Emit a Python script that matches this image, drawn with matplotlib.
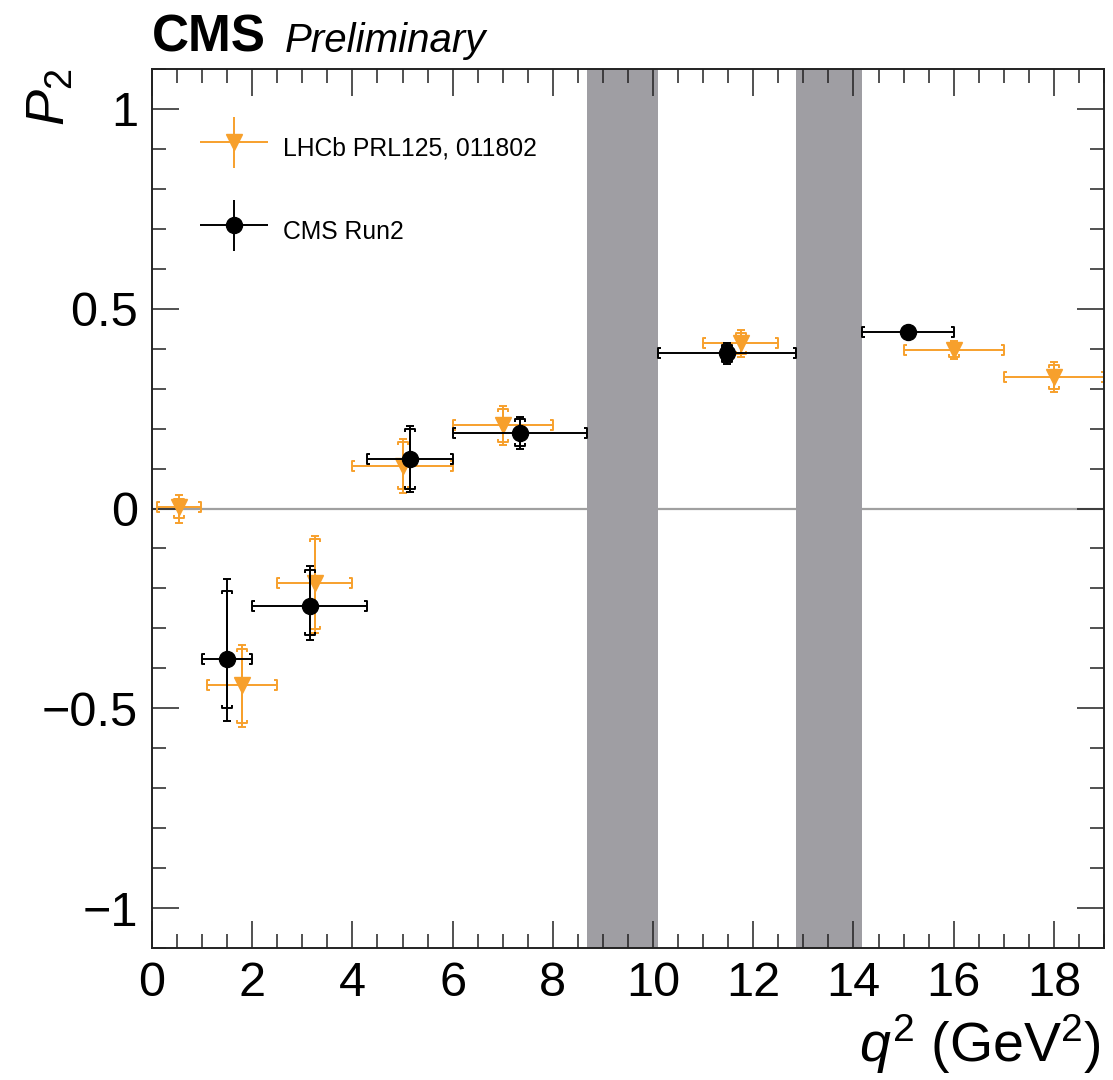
import numpy as np
import matplotlib
matplotlib.use("Agg")
import matplotlib.pyplot as plt
from matplotlib.path import Path
from matplotlib.lines import Line2D
from matplotlib.legend_handler import HandlerErrorbar
from matplotlib.container import ErrorbarContainer

plt.rcParams['font.family'] = ['Liberation Sans', 'DejaVu Sans']
plt.rcParams['mathtext.fontset'] = 'custom'
plt.rcParams['mathtext.rm'] = 'Liberation Sans'
plt.rcParams['mathtext.it'] = 'Liberation Sans:italic'
plt.rcParams['mathtext.bf'] = 'Liberation Sans:bold'

# ---------------- data ----------------
# LHCb PRL125, 011802
lhcb_lo = np.array([0.10, 1.1, 2.5, 4.0, 6.0, 11.0, 15.0, 17.0])
lhcb_hi = np.array([0.98, 2.5, 4.0, 6.0, 8.0, 12.5, 17.0, 19.0])
lhcb_y = np.array([0.003, -0.441, -0.186, 0.106, 0.210, 0.413, 0.397, 0.330])
lhcb_tot_up = np.array([0.031, 0.100, 0.118, 0.069, 0.046, 0.033, 0.022, 0.037])
lhcb_tot_dn = np.array([0.039, 0.105, 0.125, 0.066, 0.050, 0.033, 0.024, 0.038])
lhcb_stat_up = np.array([0.022, 0.090, 0.110, 0.060, 0.040, 0.026, 0.017, 0.030])
lhcb_stat_dn = np.array([0.026, 0.095, 0.115, 0.058, 0.043, 0.026, 0.018, 0.031])

# CMS Run2
cms_lo = np.array([1.0, 2.0, 4.3, 6.0, 10.09, 14.18])
cms_hi = np.array([2.0, 4.3, 6.0, 8.68, 12.86, 16.0])
cms_y = np.array([-0.376, -0.243, 0.123, 0.190, 0.388, 0.442])
cms_tot_up = np.array([0.200, 0.100, 0.083, 0.039, 0.027, 0.010])
cms_tot_dn = np.array([0.155, 0.085, 0.082, 0.040, 0.027, 0.010])
cms_stat_up = np.array([0.170, 0.090, 0.076, 0.033, 0.022, 0.008])
cms_stat_dn = np.array([0.123, 0.073, 0.075, 0.034, 0.022, 0.008])

# vetoed q2 regions (J/psi, psi(2S))
veto_lo = [8.68, 12.86]
veto_hi = [10.09, 14.18]

label_lhcb = "LHCb PRL125, 011802"
label_cms = "CMS Run2"

ORANGE = '#f7a02c'
BLACK = '#000000'
BAND = '#9f9ea3'

# ---------------- figure ----------------
W, H = 1113, 1080
fig = plt.figure(figsize=(W / 100, H / 100), dpi=100)
ax = fig.add_axes([152 / W, 1 - 948 / H, (1104 - 152) / W, (948 - 69) / H])

ax.set_xlim(0, 19)
ax.set_ylim(-1.1, 1.1)

ax.axhline(0, color='#a0a0a0', lw=1.6, zorder=0.9)
for lo, hi in zip(veto_lo, veto_hi):
    ax.axvspan(lo, hi, color=BAND, lw=0, zorder=1)

# bracket-shaped cap markers
P_TOP = Path([(-1, -0.55), (-1, 0), (1, 0), (1, -0.55)])
P_BOT = Path([(-1, 0.55), (-1, 0), (1, 0), (1, 0.55)])
P_LEFT = Path([(0.55, -1), (0, -1), (0, 1), (0.55, 1)])
P_RIGHT = Path([(-0.55, -1), (0, -1), (0, 1), (-0.55, 1)])

LW = 1.4


def draw_series(lo, hi, y, tu, td, su, sd, color, marker, ms, z):
    xc = 0.5 * (lo + hi)
    xerr = np.vstack([xc - lo, hi - xc])
    # total uncertainty with plain caps
    ax.errorbar(xc, y, yerr=np.vstack([td, tu]), fmt='none',
                ecolor=color, elinewidth=LW, capsize=3.2,
                capthick=LW, zorder=z)
    # statistical uncertainty + bin width with bracket ends
    br = ax.errorbar(xc, y, xerr=xerr, yerr=np.vstack([sd, su]), fmt='none',
                     ecolor=color, elinewidth=LW, capsize=3.0,
                     capthick=LW, zorder=z)
    caps = br[1]
    for c, p in zip(caps, [P_LEFT, P_RIGHT, P_BOT, P_TOP]):
        c.set_marker(p)
        c.set_markersize(7.5)
        c.set_markerfacecolor('none')
        c.set_markeredgecolor(color)
        c.set_markeredgewidth(LW)
    ax.plot(xc, y, linestyle='none', marker=marker, ms=ms, color=color,
            zorder=z + 0.1)


draw_series(lhcb_lo, lhcb_hi, lhcb_y, lhcb_tot_up, lhcb_tot_dn,
            lhcb_stat_up, lhcb_stat_dn, ORANGE, 'v', 12, 3)
draw_series(cms_lo, cms_hi, cms_y, cms_tot_up, cms_tot_dn,
            cms_stat_up, cms_stat_dn, BLACK, 'o', 11.5, 4)

# ---------------- axes styling ----------------
ax.set_xticks(np.arange(0, 19, 2))
ax.set_xticks(np.arange(0, 19.01, 0.5), minor=True)
ax.set_yticks([-1, -0.5, 0, 0.5, 1])
ax.set_yticks(np.arange(-1.1, 1.101, 0.1), minor=True)
ax.set_xticklabels([str(v) for v in range(0, 19, 2)])
ax.set_yticklabels(['\u22121', '\u22120.5', '0', '0.5', '1'])
ax.tick_params(which='both', direction='in', top=True, right=True,
               width=1.1, color='#222222')
ax.tick_params(which='major', length=19.5, labelsize=35)
ax.tick_params(axis='x', which='major', pad=9)
ax.tick_params(axis='y', which='major', pad=10)
ax.tick_params(which='minor', length=10)
for s in ax.spines.values():
    s.set_linewidth(1.4)
    s.set_color('#222222')
    s.set_zorder(5)

ax.set_xlabel(r'$q^{2}$ (GeV$^{2}$)', fontsize=40, loc='right')
ax.xaxis.set_label_coords(0.997, -0.073)
ax.set_ylabel(r'$P_{2}$', fontsize=39, loc='top')
ax.yaxis.set_label_coords(-0.080, 1.0)

fig.text(152 / W, 1 - 52 / H, 'CMS', fontsize=37, fontweight='bold',
         ha='left', va='baseline')
fig.text(285 / W, 1 - 52 / H, 'Preliminary', fontsize=29, style='italic',
         ha='left', va='baseline')

# ---------------- legend ----------------
h_l = ax.errorbar([], [], xerr=[], yerr=[], fmt='v', ms=12, color=ORANGE,
                  ecolor=ORANGE, elinewidth=LW, capsize=3.2, capthick=LW)
h_c = ax.errorbar([], [], xerr=[], yerr=[], fmt='o', ms=11.5, color=BLACK,
                  ecolor=BLACK, elinewidth=LW, capsize=3.2, capthick=LW)


class NoXCapHandler(HandlerErrorbar):
    def create_artists(self, *args, **kwargs):
        arts = super().create_artists(*args, **kwargs)
        return [a for a in arts
                if not (isinstance(a, Line2D) and a.get_marker() == '|')]


hm = NoXCapHandler(xerr_size=1.36, yerr_size=1.03)
leg = ax.legend([h_l, h_c], [label_lhcb, label_cms],
                handler_map={ErrorbarContainer: hm},
                loc='upper left',
                bbox_to_anchor=((200 - 152) / 952, (948 - 129) / 879),
                frameon=False, fontsize=17.8, borderpad=0, borderaxespad=0,
                handlelength=2.75, handleheight=2.0, handletextpad=0.6,
                labelspacing=1.8, numpoints=1)

fig.savefig('out.png', dpi=100)
